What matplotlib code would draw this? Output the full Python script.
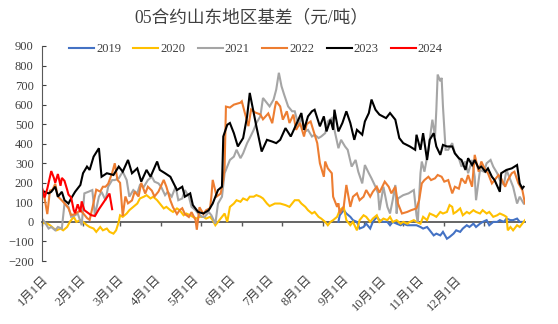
import numpy as np
import matplotlib
matplotlib.use("Agg")
import matplotlib.pyplot as plt

plt.rcParams['font.family'] = ['Liberation Serif', 'Noto Sans CJK SC', 'DejaVu Sans']
plt.rcParams['axes.unicode_minus'] = True

title = "05合约山东地区基差（元/吨）"
month_labels = ["1月1日", "2月1日", "3月1日", "4月1日", "5月1日", "6月1日",
                "7月1日", "8月1日", "9月1日", "10月1日", "11月1日", "12月1日"]
month_starts = [0, 31, 59, 90, 120, 151, 181, 212, 243, 273, 304, 334]
yticks = list(range(-200, 901, 100))

# day-of-year, basis (yuan/ton)
d2019 = [224,225,228,230,233,235,238,240,243,245,248,250,253,255,258,261,263,265,268,271,
         273,276,278,281,283,286,288,291,293,296,298,301,303,306,308,311,313,316,318,321,
         323,326,328,331,333,336,338,341,344,346,349,351,354,356,359,361,364]
v2019 = [0,34,60,43,26,9,0,-34,-26,-9,-34,0,26,9,0,0,-17,0,-9,-17,
         -9,-17,-17,-17,-17,-26,-34,-26,-43,-69,-60,-69,-51,-86,-77,-60,-43,-51,-34,-17,
         -26,-9,-26,-9,0,9,-17,0,0,9,0,17,9,9,17,0,0]

d2020 = [0,4,6,9,11,14,16,19,21,24,26,29,31,34,36,39,41,44,46,49,51,54,56,58,59,61,64,66,69,72,
         74,77,79,82,84,87,89,92,94,97,99,102,104,107,109,112,114,117,119,122,124,127,129,131,133,136,138,140,142,145,
         147,150,152,155,157,160,162,165,167,170,172,176,180,184,187,191,194,196,199,201,
         204,206,209,211,214,216,218,220,223,225,228,230,233,235,238,240,243,245,248,250,
         253,255,258,261,263,265,268,271,273,276,278,281,283,286,288,291,293,296,298,301,
         303,306,308,310,311,313,316,318,321,323,326,328,331,333,336,338,341,344,346,349,
         351,352,354,356,359,361,364,365]
v2020 = [-5,-9,-17,-34,-43,-34,-43,-26,0,26,0,9,0,-17,-26,-34,-51,-26,-43,-34,-51,-60,-43,0,34,26,43,60,77,94,
         120,129,137,120,129,111,94,69,77,60,51,69,60,34,43,34,26,17,26,26,17,26,9,-17,0,26,43,0,77,94,
         111,103,120,111,129,129,137,129,120,94,81,94,94,86,77,111,111,94,77,60,
         43,51,26,17,0,-17,0,9,26,60,77,9,-17,0,-43,9,34,26,0,17,
         34,0,17,9,26,0,9,-9,0,-9,0,9,0,-9,26,9,43,34,26,51,
         43,51,86,77,43,51,69,34,51,43,60,51,43,60,43,51,26,34,43,34,
         26,-43,-26,-43,-17,-26,0,9]

d2021 = [0,2,5,7,10,12,15,17,20,22,25,27,30,32,35,38,40,43,45,48,50,53,55,58,61,64,66,69,72,74,
         77,80,83,85,88,90,93,95,98,101,103,106,108,111,113,116,118,121,123,126,128,131,133,136,138,140,142,145,147,150,
         152,155,157,160,162,165,167,170,172,175,177,179,181,183,186,189,191,194,196,199,
         201,204,206,209,211,214,216,219,221,224,226,229,231,234,237,239,242,244,247,249,
         252,254,255,258,261,263,265,267,268,269,273,277,281,283,284,286,287,289,292,295,
         297,298,299,301,302,303,305,307,310,312,315,317,320,322,325,327,328,331,334,336,
         339,341,344,346,349,351,354,356,359,361,364]
v2021 = [17,0,-34,-26,-43,-26,-34,94,77,26,34,43,-17,146,154,163,34,129,154,111,180,214,214,223,257,214,129,163,146,189,
         180,214,231,206,197,180,137,154,129,180,111,120,163,129,77,60,43,26,26,51,34,-9,94,129,249,283,317,334,369,326,
         351,403,429,471,506,540,634,608,591,626,677,763,694,651,591,566,566,489,540,463,
         471,437,446,429,437,454,514,531,471,377,420,386,369,283,317,257,197,291,249,223,
         180,146,60,180,77,43,111,189,43,120,137,146,163,34,0,249,309,257,369,523,
         437,574,754,720,737,591,369,369,403,351,326,283,309,249,317,231,111,266,257,300,
         317,283,249,214,189,266,214,180,94,129,94]

d2022 = [0,2,4,6,8,10,12,15,17,20,22,25,29,31,34,36,39,41,44,46,48,50,53,55,57,59,61,63,65,68,
         70,73,75,78,80,83,85,88,92,94,97,99,102,104,106,108,111,113,116,117,119,122,124,127,128,129,132,135,137,138,
         139,142,145,150,151,153,156,158,161,165,167,171,174,176,177,180,182,185,187,190,
         192,195,198,200,203,205,208,210,213,214,216,219,220,223,224,225,228,230,233,235,
         238,240,243,245,248,250,253,255,259,262,264,267,269,272,276,279,283,285,287,289,
         292,294,297,299,302,304,307,310,312,315,317,320,322,325,327,330,332,335,337,340,
         342,345,347,350,352,355,357,360,363,365]
v2022 = [155,120,40,160,165,195,130,110,95,70,35,40,60,45,20,10,100,165,155,180,180,195,250,300,215,200,30,130,95,110,
         155,130,200,145,180,160,130,155,215,180,110,75,40,60,70,40,25,50,10,-40,75,40,60,70,130,215,130,145,215,280,
         590,585,600,610,617,565,490,575,560,550,525,555,505,585,617,591,523,566,506,549,
         471,506,437,500,514,470,403,300,231,309,274,249,129,77,95,43,77,189,77,129,
         146,111,129,163,129,154,180,150,206,180,146,180,94,43,51,60,69,111,197,214,
         231,214,223,240,231,206,214,146,180,170,223,197,240,180,343,257,309,266,249,197,
         214,240,223,180,214,249,257,197,163,94]

d2023 = [2,5,7,10,12,15,17,20,22,25,29,31,34,36,39,43,45,49,54,58,61,65,68,72,75,79,82,87,89,93,
         97,102,106,108,112,114,118,122,126,129,133,136,137,140,142,145,148,152,155,157,160,162,166,170,174,177,180,184,188,192,
         196,198,201,204,206,210,213,215,218,220,221,224,227,230,233,236,238,242,244,247,
         249,252,255,260,263,267,270,273,278,282,283,286,288,291,293,296,298,301,303,306,
         310,312,315,317,320,322,325,327,330,332,335,337,340,342,346,347,351,355,359,361,
         363,364]
v2023 = [154,146,154,180,129,154,111,94,120,154,189,249,283,266,334,377,231,249,240,283,257,317,249,274,206,266,231,309,266,249,
         231,163,180,129,146,86,51,43,60,94,163,180,437,497,506,454,386,429,540,660,557,489,360,420,411,403,420,480,437,497,
         557,471,540,566,574,489,540,463,523,471,574,463,506,566,506,420,471,446,514,557,
         626,574,549,531,557,523,429,403,386,369,446,369,454,317,420,454,386,343,394,386,
         386,351,326,317,266,326,291,317,274,283,257,274,231,214,154,249,266,274,291,197,
         171,180]

d2024 = [0,2,4,7,9,10,12,14,15,17,19,20,22,24,25,27,29,30,32,34,37,40,43,46,49,51,53]
v2024 = [175,125,170,260,225,200,245,185,225,210,165,140,125,60,45,90,50,105,60,50,35,30,65,95,125,145,65]

series = [("2019", d2019, v2019, "#4472C4"),
          ("2020", d2020, v2020, "#FFC000"),
          ("2021", d2021, v2021, "#A5A5A5"),
          ("2022", d2022, v2022, "#ED7D31"),
          ("2023", d2023, v2023, "#000000"),
          ("2024", d2024, v2024, "#FF0000")]

fig = plt.figure(figsize=(5.58, 3.24), dpi=100)
ax = fig.add_axes([42/558, 1-261/324, 483/558, 215/324])

for name, d, v, c in series:
    ax.plot(d, v, color=c, lw=1.5, label=name, solid_joinstyle='miter')

ax.set_xlim(0, 365)
ax.set_ylim(-200, 900)
ax.set_yticks(yticks)
txtc = '#404040'
ax.tick_params(axis='y', direction='in', length=3, pad=6, labelsize=9, colors=txtc)
ax.spines['left'].set_color('#595959')
for s in ['top', 'right', 'bottom']:
    ax.spines[s].set_visible(False)

# category labels (evenly spaced as in the source chart)
lab_pos = np.arange(len(month_labels)) * 28.45
ax.set_xticks(lab_pos)
ax.set_xticklabels(month_labels, rotation=45, ha='right', va='top', rotation_mode='anchor')
ax.tick_params(axis='x', length=0, pad=9, labelsize=9, colors=txtc)

# zero line with month tick marks
zero_frac = (0 - (-200)) / 1100
sec = ax.secondary_xaxis(zero_frac)
sec.set_xticks(month_starts)
sec.set_xticklabels([])
sec.tick_params(direction='out', length=3, color='#595959', width=1)
sec.spines['bottom'].set_color('#595959')
sec.spines['bottom'].set_linewidth(1.3)

leg = ax.legend(loc='center', bbox_to_anchor=(0.443, 0.985), ncol=6, frameon=False,
                fontsize=9, handlelength=2.0, handletextpad=0.15, columnspacing=1.0)
for t in leg.get_texts():
    t.set_color(txtc)

fig.text(251/558, 1-18/324, title, ha='center', va='center', fontsize=12.7, color=txtc)

fig.savefig("out.png", dpi=100)
